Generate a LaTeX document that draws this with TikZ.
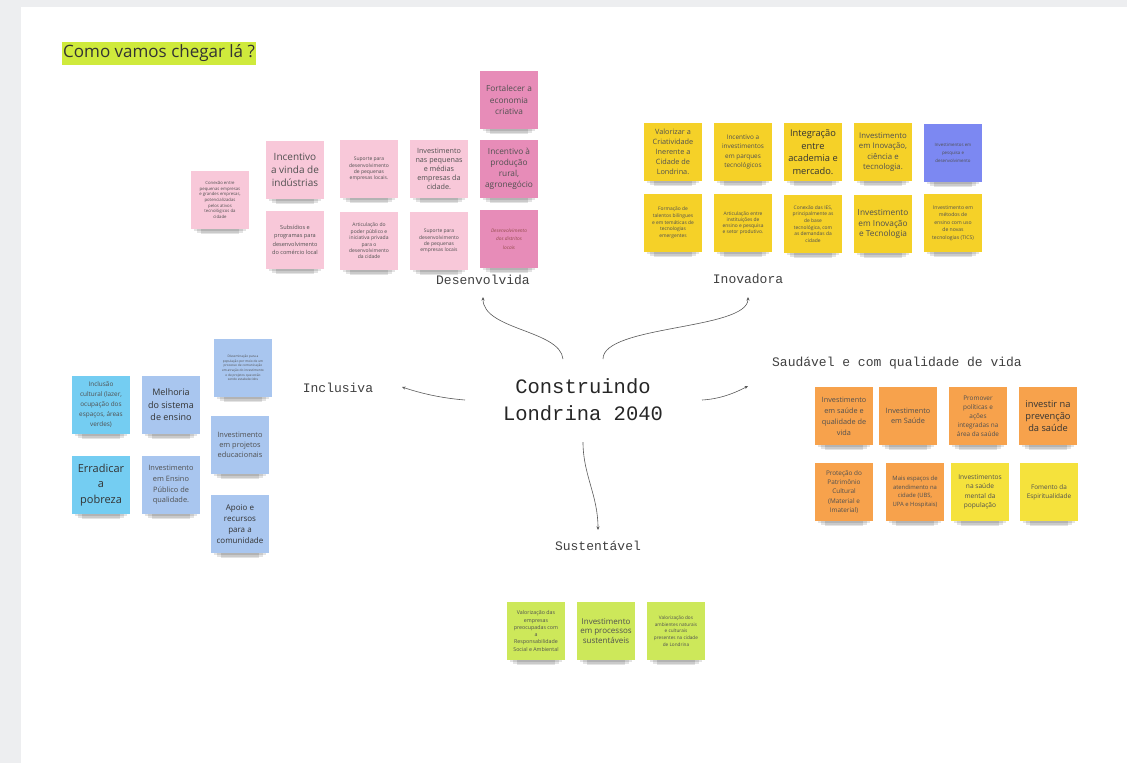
\documentclass[tikz,border=0pt]{standalone}
\usepackage{fontspec}
\setmainfont{Open Sans}
\newfontfamily\monof{Liberation Mono}
\usetikzlibrary{arrows.meta,backgrounds}
\definecolor{pinkL}{HTML}{F8C8D9}
\definecolor{pinkD}{HTML}{E78CB8}
\definecolor{yel}{HTML}{F5D128}
\definecolor{purp}{HTML}{7C88F2}
\definecolor{cyanb}{HTML}{74CDF2}
\definecolor{lblue}{HTML}{A9C6EF}
\definecolor{orng}{HTML}{F7A24C}
\definecolor{yelL}{HTML}{F5E23C}
\definecolor{grn}{HTML}{CDE85A}
\definecolor{lime}{HTML}{CFEA3C}
\definecolor{txt}{HTML}{505050}
\definecolor{bgstrip}{HTML}{EDEEF0}
\newcommand\fz[2]{\fontsize{#1pt}{#2pt}\selectfont}
\tikzset{
  note/.style={minimum width=58pt, minimum height=58pt, inner sep=0pt, align=center, text=txt},
  shadowband/.style={fill=black, opacity=0.11},
  lbl/.style={font=\monof\fontsize{13pt}{15pt}\selectfont, text=black!75, inner sep=0pt},
  conn/.style={draw=black!65, line width=0.6pt, -{Stealth[length=3.5pt,width=3pt]}}
}
\begin{document}
\begin{tikzpicture}[x=1pt,y=-1pt]
\useasboundingbox (0,0) rectangle (1127,763);

% title
\node[fill=lime, text=black!80, font=\fz{17}{20}, inner xsep=1pt, inner ysep=2.5pt, anchor=west] (title) at (62,53.5) {Como vamos chegar lá ?};

% center
\node[font=\monof\fontsize{20.5pt}{27pt}\selectfont, text=black!85, align=center, inner sep=0pt] (c) at (583,400) {Construindo\\Londrina 2040};

% labels
\node[lbl] (dev) at (483,280) {Desenvolvida};
\node[lbl] (ino) at (748,279) {Inovadora};
\node[lbl] (inc) at (338,388) {Inclusiva};
\node[lbl] (sus) at (598,546) {Sustentável};
\node[lbl] (sau) at (897,363) {Saudável e com qualidade de vida};

% connectors
\draw[conn] ([shift={(-20,-41)}]c.center) .. controls +(-3,-29) and +(0,33) .. ([shift={(0,17)}]dev.center);
\draw[conn] ([shift={(20,-41)}]c.center) .. controls +(0,-34) and +(0,33) .. ([shift={(0,18)}]ino.center);
\draw[conn] ([shift={(-118,0)}]c.center) .. controls +(-25,-2) and +(18,6) .. ([shift={(64,-1)}]inc.center);
\draw[conn] ([shift={(119,0)}]c.center) .. controls +(18,-1) and +(-13,7) .. ([shift={(-149,23)}]sau.center);
\draw[conn] ([shift={(0,42)}]c.center) .. controls +(0,33) and +(0,-35) .. ([shift={(0,-16)}]sus.center);

% pink cluster
\node[note, fill=pinkL, font=\fz{4.3}{5.6}] (p1) at (220,200) {Conexão entre\\pequenas empresas\\e grandes empresas,\\potencializadas\\pelos ativos\\tecnológicos da\\cidade};
\node[note, fill=pinkL, font=\fz{10}{13}] (p2) at (295,170) {Incentivo\\a vinda de\\indústrias};
\node[note, fill=pinkL, font=\fz{5.6}{8.3}] (p3) at (295,240) {Subsídios e\\programas para\\desenvolvimento\\do comércio local};
\node[note, fill=pinkL, font=\fz{5}{6.2}] (p4) at (369,169) {Suporte para\\desenvolvimento\\de pequenas\\empresas locais.};
\node[note, fill=pinkL, font=\fz{7.2}{9}] (p5) at (439,169) {Investimento\\nas pequenas\\e médias\\empresas da\\cidade.};
\node[note, fill=pinkL, font=\fz{5}{6.4}] (p6) at (369,241) {Articulação do\\poder público e\\iniciativa privada\\para o\\desenvolvimento\\da cidade};
\node[note, fill=pinkL, font=\fz{5}{6.4}] (p7) at (439,241) {Suporte para\\desenvolvimento\\de pequenas\\empresas locais};
\node[note, fill=pinkD, font=\fz{8.3}{11.3}] (p8) at (509,100) {Fortalecer a\\economia\\criativa};
\node[note, fill=pinkD, font=\fz{8.3}{11}] (p9) at (509,169) {Incentivo à\\produção\\rural,\\agronegócio};
\node[note, fill=pinkD, font=\itshape\fz{4.8}{8.3}, text=black!60!red!70] (p10) at (509,239) {Desenvolvimento\\dos distritos\\locais};

% yellow cluster
\node[note, fill=yel, font=\fz{7.3}{10}] (y1) at (673,152) {Valorizar a\\Criatividade\\Inerente a\\Cidade de\\Londrina.};
\node[note, fill=yel, font=\fz{6.4}{9.5}] (y2) at (743,152) {Incentivo a\\investimentos\\em parques\\tecnológicos};
\node[note, fill=yel, font=\fz{9.3}{12.5}, text=black!80] (y3) at (813,152) {Integração\\entre\\academia e\\mercado.};
\node[note, fill=yel, font=\fz{7.8}{10.5}] (y4) at (883,152) {Investimento\\em Inovação,\\ciência e\\tecnologia.};
\node[note, fill=purp, font=\fz{4.4}{8}] (y5) at (953,153) {Investimentos em\\pesquisa e\\desenvolvimento};
\node[note, fill=yel, font=\fz{4.9}{6.7}] (y6) at (673,223) {Formação de\\talentos bilíngues\\e em temáticas de\\tecnologias\\emergentes};
\node[note, fill=yel, font=\fz{4.9}{6}] (y7) at (743,223) {Articulação entre\\instituições de\\ensino e pesquisa\\e setor produtivo.};
\node[note, fill=yel, font=\fz{4.9}{6.7}] (y8) at (813,224) {Conexão das IES,\\principalmente as\\de base\\tecnológica, com\\as demandas da\\cidade};
\node[note, fill=yel, font=\fz{8.3}{10.5}] (y9) at (883,224) {Investimento\\em Inovação\\e Tecnologia};
\node[note, fill=yel, font=\fz{5.1}{7.6}] (y10) at (953,223) {Investimento em\\métodos de\\ensino com uso\\de novas\\tecnologias (TICS)};

% inclusiva cluster
\node[note, fill=cyanb, font=\fz{6.4}{10}] (i1) at (101,405) {Inclusão\\cultural (lazer,\\ocupação dos\\espaços, áreas\\verdes)};
\node[note, fill=lblue, font=\fz{9}{12.5}, text=black!80] (i2) at (171,405) {Melhoria\\do sistema\\de ensino};
\node[note, fill=lblue, font=\fz{3.2}{4.6}] (i3) at (243,368) {Disseminação para a\\população por meio de um\\processo de comunicação\\em atração do investimento\\e de projetos que estão\\sendo estabelecidos};
\node[note, fill=cyanb, font=\fz{11}{15.5}, text=black!80] (i4) at (101,485) {Erradicar\\a\\pobreza};
\node[note, fill=lblue, font=\fz{7.4}{10.7}] (i5) at (171,485) {Investimento\\em Ensino\\Público de\\qualidade.};
\node[note, fill=lblue, font=\fz{7.4}{10}] (i6) at (240,445) {Investimento\\em projetos\\educacionais};
\node[note, fill=lblue, font=\fz{8}{11}, text=black!80] (i7) at (240,524) {Apoio e\\recursos\\para a\\comunidade};

% orange cluster
\node[note, fill=orng, font=\fz{7.3}{11}] (o1) at (844,416) {Investimento\\em saúde e\\qualidade de\\vida};
\node[note, fill=orng, font=\fz{7.3}{10.7}] (o2) at (908,416) {Investimento\\em Saúde};
\node[note, fill=orng, font=\fz{6.4}{9}] (o3) at (978,416) {Promover\\políticas e\\ações\\integradas na\\área da saúde};
\node[note, fill=orng, font=\fz{9.3}{12.3}, text=black!80] (o4) at (1048,416) {investir na\\prevenção\\da saúde};
\node[note, fill=orng, font=\fz{6.4}{9.3}] (o5) at (844,492) {Proteção do\\Patrimônio\\Cultural\\(Material e\\Imaterial)};
\node[note, fill=orng, font=\fz{5.9}{8.7}] (o6) at (915,492) {Mais espaços de\\atendimento na\\cidade (UBS,\\UPA e Hospitais)};
\node[note, fill=yelL, font=\fz{6.6}{9.5}] (o7) at (980,492) {Investimentos\\na saúde\\mental da\\população};
\node[note, fill=yelL, font=\fz{6.4}{8.7}] (o8) at (1049,492) {Fomento da\\Espiritualidade};

% green cluster
\node[note, fill=grn, font=\fz{5.3}{7.3}] (g1) at (536,631) {Valorização das\\empresas\\preocupadas com\\a\\Responsabilidade\\Social e Ambiental};
\node[note, fill=grn, font=\fz{8}{9.3}] (g2) at (606,631) {Investimento\\em processos\\sustentáveis};
\node[note, fill=grn, font=\fz{4.7}{6.7}] (g3) at (676,631) {Valorização dos\\ambientes naturais\\e culturais\\presentes na cidade\\de Londrina};

% background: canvas strips and soft shadows under the notes
\begin{scope}[on background layer]
\fill[white] (0,0) rectangle (1127,763);
\fill[bgstrip] (0,0) rectangle (1127,7);
\fill[bgstrip] (0,0) rectangle (21,763);
\foreach \n in {p1,p2,p3,p4,p5,p6,p7,p8,p9,p10,y1,y2,y3,y4,y5,y6,y7,y8,y9,y10,i1,i2,i3,i4,i5,i6,i7,o1,o2,o3,o4,o5,o6,o7,o8,g1,g2,g3}{
  \fill[shadowband] ([shift={(3,-3)}]\n.south west) rectangle ([shift={(-3,2)}]\n.south east);
  \fill[shadowband] ([shift={(6,-3)}]\n.south west) rectangle ([shift={(-6,3.5)}]\n.south east);
  \fill[shadowband] ([shift={(10,-3)}]\n.south west) rectangle ([shift={(-10,5)}]\n.south east);
}
\end{scope}
\end{tikzpicture}
\end{document}
